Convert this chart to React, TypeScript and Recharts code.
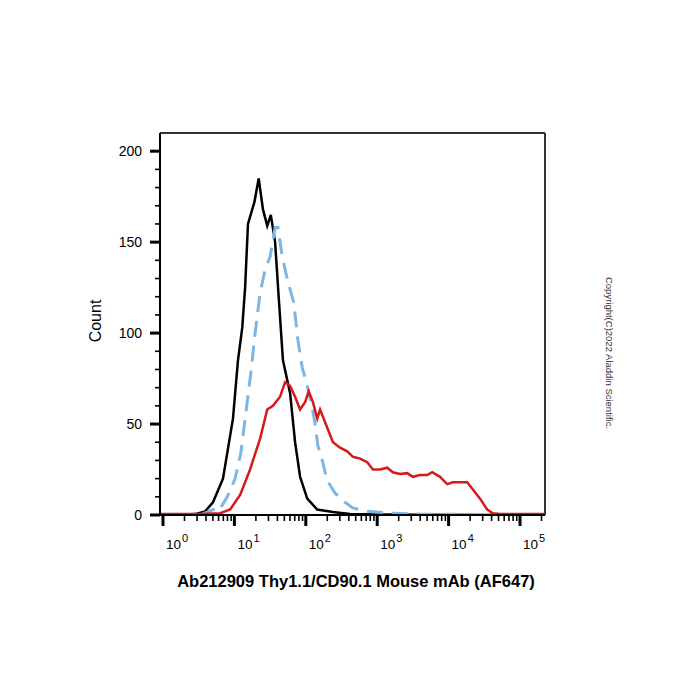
import React from "react";
import { LineChart, Line, XAxis, YAxis, ReferenceLine } from "recharts";

// x values are log10(fluorescence), y values are counts
const controlBlack = [
  { x: 0.2, y: 0 }, { x: 0.45, y: 0.5 }, { x: 0.59, y: 2 }, { x: 0.7, y: 7 },
  { x: 0.84, y: 20 }, { x: 0.98, y: 53 }, { x: 1.05, y: 85 }, { x: 1.11, y: 103 },
  { x: 1.15, y: 125 }, { x: 1.19, y: 160 }, { x: 1.25, y: 168 }, { x: 1.28, y: 172 },
  { x: 1.34, y: 185 }, { x: 1.4, y: 168 }, { x: 1.46, y: 159 }, { x: 1.51, y: 165 },
  { x: 1.57, y: 150 }, { x: 1.62, y: 120 }, { x: 1.68, y: 85 }, { x: 1.78, y: 67 },
  { x: 1.85, y: 40 }, { x: 1.92, y: 21 }, { x: 2.02, y: 9 }, { x: 2.16, y: 3 },
  { x: 2.38, y: 1.6 }, { x: 2.62, y: 0.6 }, { x: 3.04, y: 0.3 }, { x: 3.6, y: 0.2 },
  { x: 5.35, y: 0 },
];

const unstainedBlue = [
  { x: 0.52, y: 0 }, { x: 0.62, y: 1.5 }, { x: 0.7, y: 3 }, { x: 0.78, y: 2 },
  { x: 0.9, y: 10 }, { x: 1.01, y: 20 }, { x: 1.09, y: 34 }, { x: 1.16, y: 56 },
  { x: 1.23, y: 78 }, { x: 1.29, y: 100 }, { x: 1.36, y: 122 }, { x: 1.43, y: 135 },
  { x: 1.5, y: 142 }, { x: 1.57, y: 158 }, { x: 1.61, y: 158 }, { x: 1.67, y: 142 },
  { x: 1.75, y: 128 }, { x: 1.83, y: 117 }, { x: 1.89, y: 96 }, { x: 1.95, y: 81 },
  { x: 2.02, y: 71 }, { x: 2.09, y: 59 }, { x: 2.13, y: 50 }, { x: 2.17, y: 38 },
  { x: 2.23, y: 30 }, { x: 2.3, y: 19 }, { x: 2.41, y: 12 }, { x: 2.55, y: 7 },
  { x: 2.65, y: 4 }, { x: 2.86, y: 2 }, { x: 3.18, y: 1 }, { x: 3.6, y: 0.5 },
  { x: 4.44, y: 0.3 }, { x: 5.35, y: 0 },
];

const stainedRed = [
  { x: -0.04, y: 0.5 }, { x: 0.52, y: 0.5 }, { x: 0.8, y: 1 }, { x: 0.94, y: 3 },
  { x: 1.08, y: 11 }, { x: 1.22, y: 25 }, { x: 1.26, y: 30 }, { x: 1.36, y: 42 },
  { x: 1.46, y: 58 }, { x: 1.54, y: 60 }, { x: 1.64, y: 65 }, { x: 1.71, y: 73 },
  { x: 1.78, y: 71 }, { x: 1.85, y: 65 }, { x: 1.92, y: 58 }, { x: 1.99, y: 62 },
  { x: 2.04, y: 68 }, { x: 2.1, y: 62 }, { x: 2.16, y: 53 }, { x: 2.2, y: 58 },
  { x: 2.24, y: 54 }, { x: 2.31, y: 47 }, { x: 2.38, y: 40 }, { x: 2.48, y: 37 },
  { x: 2.58, y: 35 }, { x: 2.66, y: 32 }, { x: 2.76, y: 31 }, { x: 2.86, y: 29 },
  { x: 2.94, y: 25 }, { x: 3.04, y: 25 }, { x: 3.14, y: 26 }, { x: 3.22, y: 23.5 },
  { x: 3.32, y: 22.5 }, { x: 3.42, y: 23 }, { x: 3.5, y: 21 }, { x: 3.6, y: 22 },
  { x: 3.7, y: 22 }, { x: 3.77, y: 23.5 }, { x: 3.88, y: 21 }, { x: 3.98, y: 17 },
  { x: 4.06, y: 18 }, { x: 4.16, y: 18 }, { x: 4.26, y: 18 }, { x: 4.34, y: 14 },
  { x: 4.44, y: 9 }, { x: 4.54, y: 3 }, { x: 4.62, y: 1 }, { x: 4.72, y: 0.5 },
  { x: 5.35, y: 0.5 },
];

const decades = [0, 1, 2, 3, 4, 5];
const minorMultipliers = [2, 3, 4, 5, 6, 7, 8, 9];
const xMin = -0.042;
const xMax = 5.35;
const xTicks: number[] = [];
decades.forEach((d) => {
  xTicks.push(d);
  minorMultipliers.forEach((m) => {
    const v = d + Math.log10(m);
    if (v <= xMax) xTicks.push(v);
  });
});
const yTicks = [0, 10, 20, 30, 40, 50, 60, 70, 80, 90, 100, 110, 120, 130, 140, 150, 160, 170, 180, 190, 200];
const yMax = 210;

const FONT = "'Liberation Sans', Arial, Helvetica, sans-serif";

const XTick = (props: any) => {
  const { x, y, payload } = props;
  const v = payload.value as number;
  const isMajor = Math.abs(v - Math.round(v)) < 1e-6;
  if (isMajor) {
    return (
      <g>
        <line x1={x} x2={x} y1={y} y2={y + 11} stroke="#000" strokeWidth={3} />
        <text x={x + 3} y={y + 34} fontFamily={FONT} fontSize={13.5} fill="#000">
          10
          <tspan dx={1} dy={-7} fontSize={11}>{Math.round(v)}</tspan>
        </text>
      </g>
    );
  }
  return <line x1={x} x2={x} y1={y} y2={y + 6} stroke="#000" strokeWidth={1.6} />;
};

const YTick = (props: any) => {
  const { x, y, payload } = props;
  const v = payload.value as number;
  const isMajor = v % 50 === 0;
  if (isMajor) {
    return (
      <g>
        <line x1={x - 10} x2={x} y1={y} y2={y} stroke="#000" strokeWidth={3} />
        <text x={x - 18} y={y} dy="0.35em" textAnchor="end" fontFamily={FONT} fontSize={14} fill="#000">
          {v}
        </text>
      </g>
    );
  }
  return <line x1={x - 5} x2={x} y1={y} y2={y} stroke="#000" strokeWidth={1.6} />;
};

export default function App() {
  return (
    <div style={{ position: "absolute", left: 0, top: 0, width: 700, height: 700, background: "#fff" }}>
      <LineChart
        width={700}
        height={700}
        margin={{ top: 133, right: 155, bottom: 145, left: 100 }}
      >
        <XAxis
          type="number"
          dataKey="x"
          domain={[xMin, xMax]}
          allowDataOverflow
          ticks={xTicks}
          interval={0}
          tick={<XTick />}
          tickLine={false}
          tickSize={0}
          tickMargin={0}
          height={40}
          axisLine={{ stroke: "#000", strokeWidth: 2 }}
        />
        <YAxis
          type="number"
          domain={[0, yMax]}
          allowDataOverflow
          ticks={yTicks}
          interval={0}
          tick={<YTick />}
          tickLine={false}
          tickSize={0}
          tickMargin={0}
          width={60}
          axisLine={{ stroke: "#000", strokeWidth: 2 }}
        />
        <ReferenceLine y={yMax} stroke="#333" strokeWidth={2} />
        <ReferenceLine x={xMax} stroke="#333" strokeWidth={2} />
        <Line
          data={controlBlack}
          dataKey="y"
          type="linear"
          stroke="#000000"
          strokeWidth={2.5}
          dot={false}
          isAnimationActive={false}
        />
        <Line
          data={unstainedBlue}
          dataKey="y"
          type="linear"
          stroke="#7db6e2"
          strokeWidth={3}
          strokeDasharray="16 9"
          dot={false}
          isAnimationActive={false}
        />
        <Line
          data={stainedRed}
          dataKey="y"
          type="linear"
          stroke="#d7191c"
          strokeWidth={2.5}
          dot={false}
          isAnimationActive={false}
        />
      </LineChart>
      <svg
        width={700}
        height={700}
        style={{ position: "absolute", left: 0, top: 0, pointerEvents: "none" }}
      >
        <text
          x={95}
          y={321}
          transform="rotate(-90 95 321)"
          textAnchor="middle"
          dominantBaseline="central"
          fontFamily={FONT}
          fontSize={16}
          fill="#000"
        >
          Count
        </text>
        <text
          x={356}
          y={587}
          textAnchor="middle"
          fontFamily={FONT}
          fontSize={16.5}
          fontWeight="bold"
          fill="#000"
        >
          Ab212909 Thy1.1/CD90.1 Mouse mAb (AF647)
        </text>
        <text
          x={609}
          y={353}
          transform="rotate(90 609 353)"
          textAnchor="middle"
          dominantBaseline="central"
          fontFamily={FONT}
          fontSize={9.5}
          fill="#333"
        >
          Copyright(C)2022 Aladdin Scientific.
        </text>
      </svg>
    </div>
  );
}
